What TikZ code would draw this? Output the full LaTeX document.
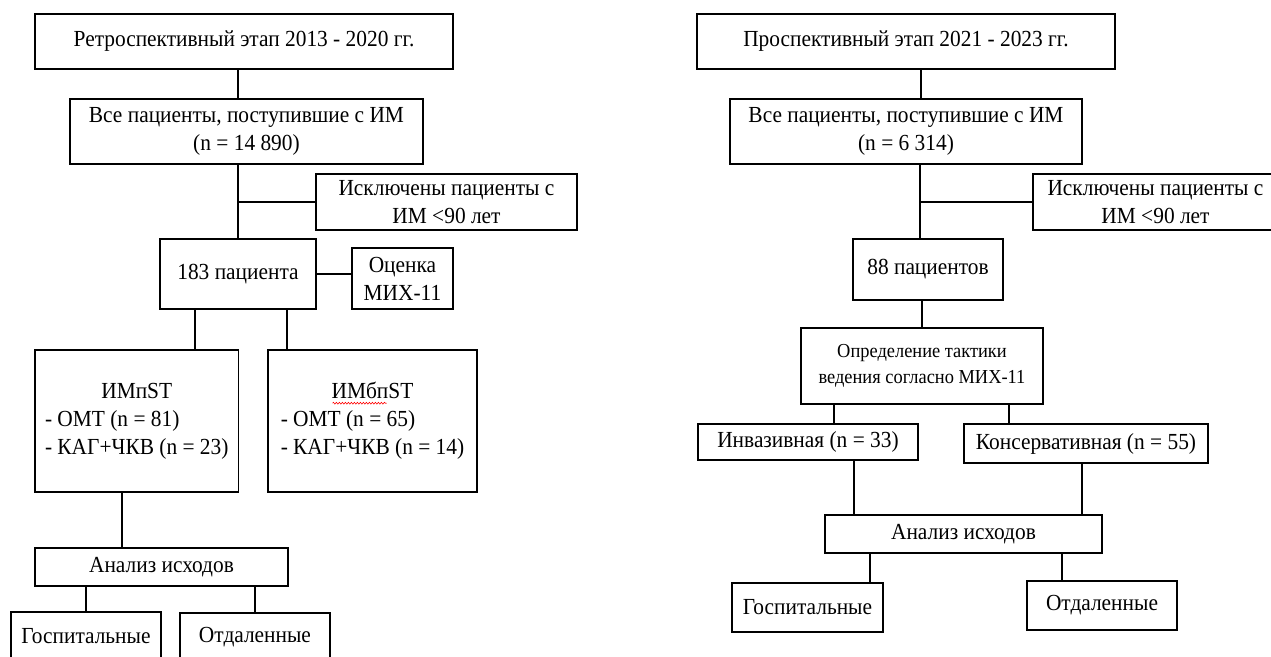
\documentclass[tikz,border=0pt]{standalone}
\usepackage{fontspec}
\setmainfont{Liberation Serif}[FakeStretch=0.93]
\usetikzlibrary{calc,decorations.pathmorphing}
\begin{document}
\begin{tikzpicture}[x=1bp,y=-1bp,
  box/.style={draw, line width=1.6bp, inner sep=0pt, align=center,
    font=\fontsize{23bp}{28bp}\selectfont},
  smallbox/.style={box, font=\fontsize{19.8bp}{26bp}\selectfont},
  conn/.style={line width=1.5bp}]
\useasboundingbox (0,0) rectangle (1271,657);
\clip (0,0) rectangle (1271,657);
\fill[white] (0,0) rectangle (1271,657);

% ---------- left diagram ----------
\node[box, minimum width=418bp, minimum height=55bp] (top1) at (244,41.5) {Ретроспективный этап 2013 - 2020 гг.};
\node[box, minimum width=353bp, minimum height=65bp] (all1) at (246.5,131.5) {Все пациенты, поступившие с ИМ\\(n = 14 890)};
\node[box, minimum width=261bp, minimum height=56bp] (exc1) at (446.5,202) {Исключены пациенты с\\ИМ <90 лет};
\node[box, minimum width=156bp, minimum height=70bp] (p183) at (238,274) {183 пациента};
\node[box, minimum width=101bp, minimum height=61bp] (oc) at (402.5,278.5) {Оценка\\МИХ-11};
\node[box, minimum width=203.5bp, minimum height=142bp] (imp) at (136.75,421)
  {\begin{tabular}{@{}l@{}}\multicolumn{1}{@{}c@{}}{ИМпST}\\- ОМТ (n = 81)\\- КАГ+ЧКВ (n = 23)\end{tabular}};
\node[box, minimum width=209bp, minimum height=142bp] (imb) at (372.5,421)
  {\begin{tabular}{@{}l@{}}\multicolumn{1}{@{}c@{}}{ИМбпST}\\- ОМТ (n = 65)\\- КАГ+ЧКВ (n = 14)\end{tabular}};
\node[box, minimum width=253bp, minimum height=38bp] (an1) at (161.5,567) {Анализ исходов};
\node[box, minimum width=150bp, minimum height=49bp] (gos1) at (86,636.5) {Госпитальные};
\node[box, minimum width=150bp, minimum height=49bp] (otd1) at (255,637.5) {Отдаленные};

\draw[red, line width=0.6bp, decorate, decoration={snake, amplitude=0.9bp, segment length=3bp}]
  ([xshift=-40bp,yshift=-54bp]imb.north) -- ([xshift=14bp,yshift=-54bp]imb.north);

\draw[conn] (p183.north |- top1.south) -- (p183.north |- all1.north);
\draw[conn] (p183.north |- all1.south) -- (p183.north);
\draw[conn] (p183.north |- exc1.west) -- (exc1.west);
\draw[conn] (p183.east) -- (p183.east -| oc.west);
\draw[conn] ([xshift=-43bp]p183.south) -- ([xshift=-43bp]p183.south |- imp.north);
\draw[conn] ([xshift=49bp]p183.south) -- ([xshift=49bp]p183.south |- imb.north);
\draw[conn] ([xshift=-14.75bp]imp.south) -- ([xshift=-14.75bp]imp.south |- an1.north);
\draw[conn] (gos1.north |- an1.south) -- (gos1.north);
\draw[conn] (otd1.north |- an1.south) -- (otd1.north);

% ---------- right diagram ----------
\node[box, minimum width=418bp, minimum height=55bp] (top2) at (906,41.5) {Проспективный этап 2021 - 2023 гг.};
\node[box, minimum width=352bp, minimum height=65bp] (all2) at (906,131.5) {Все пациенты, поступившие с ИМ\\(n = 6 314)};
\node[box, minimum width=245bp, minimum height=56bp] (exc2) at (1155.5,202) {Исключены пациенты с\\ИМ <90 лет};
\node[box, minimum width=150bp, minimum height=61bp] (p88) at (928,269.5) {88 пациентов};
\node[smallbox, minimum width=242bp, minimum height=76bp] (opr) at (922,366) {Определение тактики\\ведения согласно МИХ-11};
\node[box, minimum width=220bp, minimum height=36bp] (inv) at (808,442) {Инвазивная (n = 33)};
\node[box, minimum width=244bp, minimum height=39bp] (kon) at (1086,443.5) {Консервативная (n = 55)};
\node[box, minimum width=277bp, minimum height=38bp] (an2) at (963.5,534) {Анализ исходов};
\node[box, minimum width=151bp, minimum height=49bp] (gos2) at (807.5,607.5) {Госпитальные};
\node[box, minimum width=150bp, minimum height=49bp] (otd2) at (1102,605.5) {Отдаленные};

\draw[conn] ([xshift=15bp]top2.south) -- ([xshift=15bp]top2.south |- all2.north);
\draw[conn] ([xshift=-8bp]p88.north |- all2.south) -- ([xshift=-8bp]p88.north);
\draw[conn] ([xshift=-8bp]p88.north |- exc2.west) -- (exc2.west);
\draw[conn] (opr.north |- p88.south) -- (opr.north);
\draw[conn] ([xshift=26bp]inv.north |- opr.south) -- ([xshift=26bp]inv.north);
\draw[conn] ([xshift=-77bp]kon.north |- opr.south) -- ([xshift=-77bp]kon.north);
\draw[conn] ([xshift=46bp]inv.south) -- ([xshift=46bp]inv.south |- an2.north);
\draw[conn] ([xshift=-4bp]kon.south) -- ([xshift=-4bp]kon.south |- an2.north);
\draw[conn] ([xshift=62.5bp]gos2.north |- an2.south) -- ([xshift=62.5bp]gos2.north);
\draw[conn] ([xshift=-40bp]otd2.north |- an2.south) -- ([xshift=-40bp]otd2.north);
\end{tikzpicture}
\end{document}
